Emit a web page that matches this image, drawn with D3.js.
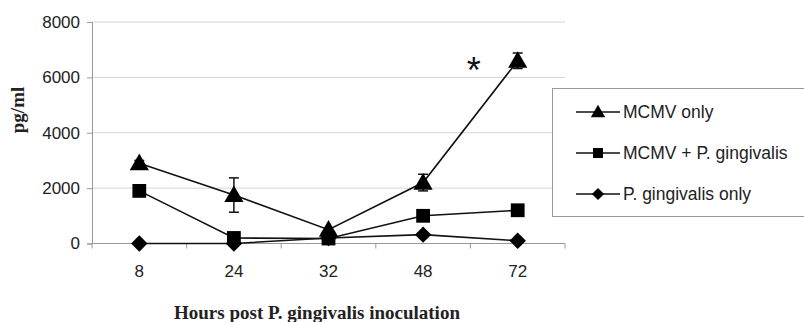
<!DOCTYPE html>
<html>
<head>
<meta charset="utf-8">
<script src="https://cdn.jsdelivr.net/npm/d3@7"></script>
<style>
  body { margin: 0; background: #fff; }
  svg { display: block; }
</style>
</head>
<body>
<div id="chart"></div>
<script>
var hours = ["8", "24", "32", "48", "72"];
var yTicks = [0, 2000, 4000, 6000, 8000];

var mcmvOnly = [2900, 1750, 500, 2200, 6600];
var mcmvOnlyErr = [100, 620, 0, 300, 280];
var mcmvPg = [1900, 200, 180, 1000, 1200];
var pgOnly = [0, 0, 200, 320, 100];

var seriesNames = ["MCMV only", "MCMV + P. gingivalis", "P. gingivalis only"];

var width = 804, height = 322;
var plot = {left: 92, right: 565, top: 22, bottom: 243.5};

var svg = d3.select("#chart").append("svg")
    .attr("width", width)
    .attr("height", height);

var x = d3.scaleBand()
    .domain(hours)
    .range([plot.left, plot.right]);

var y = d3.scaleLinear()
    .domain([0, 8000])
    .range([plot.bottom, plot.top]);

// gridlines
svg.append("g")
    .selectAll("line")
    .data(yTicks.filter(d => d > 0))
    .enter().append("line")
        .attr("x1", plot.left)
        .attr("x2", plot.right)
        .attr("y1", d => y(d))
        .attr("y2", d => y(d))
        .attr("stroke", "#d4d4d4")
        .attr("stroke-width", 1);

// y axis
var yAxis = svg.append("g")
    .attr("transform", "translate(" + plot.left + ",0)")
    .call(d3.axisLeft(y).tickValues(yTicks).tickSize(5).tickPadding(7).tickFormat(d3.format("d")));
yAxis.select(".domain").attr("stroke", "#999");
yAxis.selectAll(".tick line").attr("stroke", "#999");
yAxis.selectAll("text")
    .attr("font-family", "Liberation Sans, Arial, sans-serif")
    .attr("font-size", 17)
    .attr("fill", "#222");

// x axis: ticks at category boundaries
var bounds = hours.map(h => x(h)).concat([plot.right]);
var xg = svg.append("g");
xg.append("line")
    .attr("x1", plot.left).attr("x2", plot.right)
    .attr("y1", plot.bottom).attr("y2", plot.bottom)
    .attr("stroke", "#999");
xg.selectAll(".bt")
    .data(bounds)
    .enter().append("line")
        .attr("class", "bt")
        .attr("x1", d => d).attr("x2", d => d)
        .attr("y1", plot.bottom).attr("y2", plot.bottom + 5)
        .attr("stroke", "#999");
xg.selectAll("text")
    .data(hours)
    .enter().append("text")
        .attr("x", d => x(d) + x.bandwidth() / 2)
        .attr("y", 277)
        .attr("text-anchor", "middle")
        .attr("font-family", "Liberation Sans, Arial, sans-serif")
        .attr("font-size", 17)
        .attr("fill", "#222")
        .text(d => d);

var cx = d => x(d) + x.bandwidth() / 2;

var line = d3.line()
    .x((d, i) => cx(hours[i]))
    .y(d => y(d));

// marker shapes: triangle, square, diamond (square turned 45 degrees)
var symbols = [
    d3.symbol().type(d3.symbolTriangle).size(160),
    d3.symbol().type(d3.symbolSquare).size(190),
    d3.symbol().type(d3.symbolSquare).size(135)
];
var rot = [0, 0, 45];

// error bars (MCMV only)
var eb = svg.append("g").attr("stroke", "#111").attr("stroke-width", 1.5);
mcmvOnly.forEach(function(v, i) {
    var e = mcmvOnlyErr[i];
    if (!e) return;
    var px = cx(hours[i]);
    eb.append("line").attr("x1", px).attr("x2", px).attr("y1", y(v + e)).attr("y2", y(v - e));
    eb.append("line").attr("x1", px - 5).attr("x2", px + 5).attr("y1", y(v + e)).attr("y2", y(v + e));
    eb.append("line").attr("x1", px - 5).attr("x2", px + 5).attr("y1", y(v - e)).attr("y2", y(v - e));
});

var allSeries = [pgOnly, mcmvPg, mcmvOnly];
var symIdx = [2, 1, 0];

allSeries.forEach(function(s) {
    svg.append("path")
        .datum(s)
        .attr("d", line)
        .attr("fill", "none")
        .attr("stroke", "#111")
        .attr("stroke-width", 1.6);
});
allSeries.forEach(function(s, k) {
    var si = symIdx[k];
    svg.append("g")
        .selectAll("path")
        .data(s)
        .enter().append("path")
            .attr("d", symbols[si])
            .attr("transform", (d, i) => "translate(" + cx(hours[i]) + "," + (y(d) + (si === 0 ? 1.5 : 0)) + ") rotate(" + rot[si] + ")")
            .attr("fill", "#000");
});

// significance asterisk
svg.append("text")
    .attr("x", cx("72") - 44)
    .attr("y", y(6600) + 22)
    .attr("text-anchor", "middle")
    .attr("font-family", "Liberation Sans, Arial, sans-serif")
    .attr("font-size", 36)
    .attr("fill", "#111")
    .text("*");

// legend
var lg = svg.append("g");
lg.append("rect")
    .attr("x", 552.5).attr("y", 88.5)
    .attr("width", 260).attr("height", 128)
    .attr("fill", "#fff")
    .attr("stroke", "#999");
var rowY = [112, 153, 194];
var legSize = [90, 100, 75];
var legTypes = [d3.symbolTriangle, d3.symbolSquare, d3.symbolSquare];
seriesNames.forEach(function(name, i) {
    lg.append("line")
        .attr("x1", 576).attr("x2", 620)
        .attr("y1", rowY[i]).attr("y2", rowY[i])
        .attr("stroke", "#111").attr("stroke-width", 1.6);
    lg.append("path")
        .attr("d", d3.symbol().type(legTypes[i]).size(legSize[i]))
        .attr("transform", "translate(598," + (rowY[i] + (i === 0 ? 1 : 0)) + ") rotate(" + rot[i] + ")")
        .attr("fill", "#000");
    lg.append("text")
        .attr("x", 623)
        .attr("y", rowY[i] + 6)
        .attr("font-family", "Liberation Sans, Arial, sans-serif")
        .attr("font-size", 17.5)
        .attr("fill", "#222")
        .text(name);
});

// axis titles
svg.append("text")
    .attr("transform", "translate(24,110) rotate(-90)")
    .attr("text-anchor", "middle")
    .attr("font-family", "Liberation Serif, Times New Roman, serif")
    .attr("font-weight", "bold")
    .attr("font-size", 19)
    .attr("fill", "#222")
    .text("pg/ml");

svg.append("text")
    .attr("x", 317)
    .attr("y", 319)
    .attr("text-anchor", "middle")
    .attr("font-family", "Liberation Serif, Times New Roman, serif")
    .attr("font-weight", "bold")
    .attr("font-size", 19)
    .attr("fill", "#222")
    .text("Hours post P. gingivalis inoculation");
</script>
</body>
</html>
